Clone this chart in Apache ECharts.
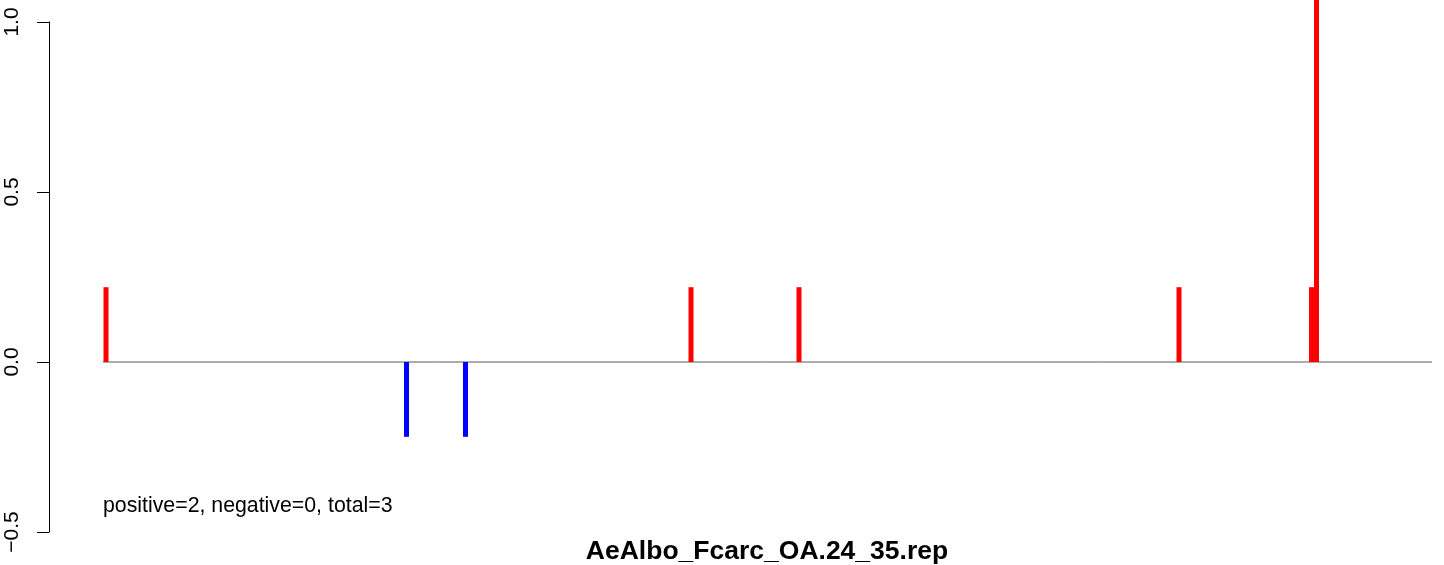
<!DOCTYPE html>
<html>
<head>
<meta charset="utf-8">
<script src="https://cdn.jsdelivr.net/npm/echarts@6/dist/echarts.min.js"></script>
<style>html,body{margin:0;padding:0;background:#fff}#c{width:1444px;height:565px}</style>
</head>
<body>
<div id="c"></div>
<script>
// Data (positions in arbitrary plot units, values as read)
var posPositions = [57, 642, 750, 1130, 1262.5, 1267.5];
var posValues    = [0.22, 0.22, 0.22, 0.22, 0.22, 1.2];
var negPositions = [357.5, 416.5];
var negValues    = [-0.22, -0.22];
var baselineRange = [54, 1383];
var yTicks = [-0.5, 0.0, 0.5, 1.0];
var titleText = 'AeAlbo_Fcarc_OA.24_35.rep';
var noteText = 'positive=2, negative=0, total=3';

function pairs(xs, ys){ return xs.map(function(x,i){ return [x, ys[i]]; }); }

var chart = echarts.init(document.getElementById('c'), null, {renderer:'canvas'});
chart.setOption({
  animation: false,
  backgroundColor: '#ffffff',
  textStyle: {fontFamily: 'Liberation Sans, Arial, sans-serif'},
  title: {
    text: titleText, left: 762, textAlign: 'center', top: 533,
    textStyle: {fontFamily: 'Liberation Sans, Arial, sans-serif', fontWeight: 'bold', fontSize: 26.5, color: '#000'}
  },
  graphic: [{
    type: 'text', left: 103, top: 496,
    style: {text: noteText, font: '21.3px "Liberation Sans", Arial, sans-serif', fill: '#000'}
  }],
  grid: {left: 49, right: 7, top: 22, bottom: 33, containLabel: false},
  xAxis: {type: 'value', min: 0, max: 1388, show: false},
  yAxis: {
    type: 'value', min: -0.5, max: 1.0, interval: 0.5,
    splitLine: {show: false},
    axisLine: {show: true, lineStyle: {color: '#000', width: 1}},
    axisTick: {show: true, length: 12, lineStyle: {color: '#000', width: 1}},
    axisLabel: {
      rotate: 90, margin: 26, fontSize: 21, color: '#000',
      fontFamily: 'Liberation Sans, Arial, sans-serif',
      formatter: function(v){ return (v < 0 ? '\u2212' : '') + Math.abs(v).toFixed(1); }
    }
  },
  series: [
    {
      type: 'line', data: [[baselineRange[0], 0], [baselineRange[1], 0]],
      symbol: 'none', lineStyle: {color: '#5a5a5a', width: 1}, z: 1, silent: true
    },
    {
      type: 'bar', data: pairs(posPositions, posValues), barWidth: 5, barGap: '-100%',
      itemStyle: {color: '#ff0000'}, clip: false, z: 3
    },
    {
      type: 'bar', data: pairs(negPositions, negValues), barWidth: 5, barGap: '-100%',
      itemStyle: {color: '#0000ff'}, clip: false, z: 3
    }
  ]
});
</script>
</body>
</html>
